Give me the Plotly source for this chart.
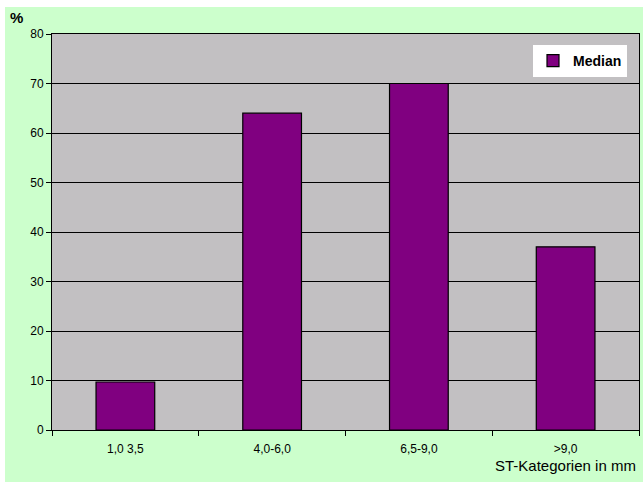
import plotly.graph_objects as go

categories = ["1,0 3,5", "4,0-6,0", "6,5-9,0", ">9,0"]
median_values = [9.7, 64, 70, 37]
y_ticks = [0, 10, 20, 30, 40, 50, 60, 70, 80]

W, H = 643, 484
L, R, T, B = 52, 4, 34, 54
pw = W - L - R
ph = H - T - B

def px_x(p):
    return (p - L) / pw

def px_y(p):
    return (H - B - p) / ph

fig = go.Figure()
fig.add_trace(go.Bar(
    x=categories, y=median_values, name="<b>Median</b>",
    marker=dict(color="#800080", line=dict(color="#000000", width=1.2)),
    width=0.4,
))

shapes = [
    dict(type="rect", xref="paper", yref="paper", x0=px_x(0), x1=px_x(5), y0=px_y(H), y1=px_y(0),
         fillcolor="white", line=dict(width=0), layer="below"),
    dict(type="rect", xref="paper", yref="paper", x0=px_x(0), x1=px_x(W), y0=px_y(7), y1=px_y(0),
         fillcolor="white", line=dict(width=0), layer="below"),
    dict(type="rect", xref="paper", yref="paper", x0=px_x(0), x1=px_x(W), y0=px_y(H), y1=px_y(482),
         fillcolor="white", line=dict(width=0), layer="below"),
]

fig.update_layout(
    width=W, height=H,
    margin=dict(l=L, r=R, t=T, b=B),
    paper_bgcolor="#CCFFCC",
    plot_bgcolor="#C2C0C2",
    font=dict(family="Liberation Sans, Arial, sans-serif", size=11, color="#000000"),
    showlegend=True,
    legend=dict(x=px_x(533), y=px_y(45), xanchor="left", yanchor="top",
                bgcolor="white", borderwidth=0, font=dict(size=14),
                itemwidth=30, tracegroupgap=0),
    bargap=0.6,
    shapes=shapes,
    xaxis=dict(
        showgrid=False, showline=True, linecolor="#000000", linewidth=1, mirror=True,
        ticks="outside", tickson="boundaries", ticklen=5, tickcolor="#000000",
        tickfont=dict(size=12), ticklabelstandoff=8, fixedrange=True,
    ),
    yaxis=dict(
        range=[0, 80], tickvals=y_ticks, showgrid=True, gridcolor="#000000", gridwidth=1,
        showline=True, linecolor="#000000", linewidth=1, mirror=True,
        ticks="outside", ticklen=5, tickcolor="#000000", zeroline=False,
        tickfont=dict(size=12), fixedrange=True,
    ),
    annotations=[
        dict(text="<b>%</b>", xref="paper", yref="paper", x=px_x(16), y=px_y(18),
             showarrow=False, font=dict(size=15), xanchor="center", yanchor="middle"),
        dict(text="ST-Kategorien in mm", xref="paper", yref="paper", x=px_x(638), y=px_y(466),
             showarrow=False, font=dict(size=15), xanchor="right", yanchor="middle"),
    ],
)

fig.write_html("out.html")
